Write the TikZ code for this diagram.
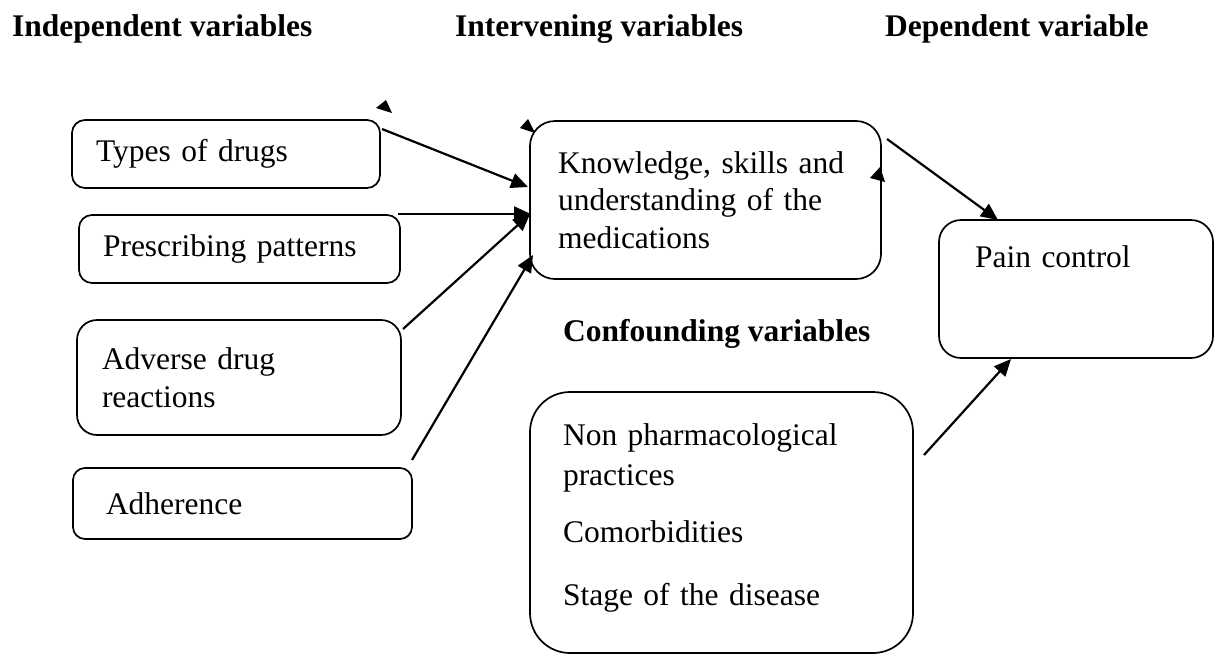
\documentclass[tikz,border=0pt]{standalone}
\usepackage{fontspec}
\setmainfont{Liberation Serif}
\usetikzlibrary{arrows.meta}
\begin{document}
\begin{tikzpicture}[x=1pt,y=-1pt,
  every node/.style={font=\fontsize{31.5}{37.5}\selectfont},
  rbox/.style={draw, line width=1.7pt, rounded corners=#1, inner ysep=0pt, align=left},
  head/.style={font=\fontsize{31.5}{37.5}\selectfont\bfseries, anchor=base west, inner sep=0pt},
  arr/.style={line width=2.2pt, -{Triangle[length=17pt,width=15pt]}},
  stray/.style={fill=black}
]
\useasboundingbox (0,0) rectangle (1217,654);

% headers
\node[head] (hind) at (12,36) {Independent variables};
\node[head] (hint) at (455,36) {Intervening variables};
\node[head] (hdep) at (885,36) {Dependent variable};
\node[head] (hconf) at (563,341) {Confounding variables};

% independent variables
\node[rbox=13pt, minimum height=68pt, text width=260pt, inner xsep=24pt] (types) at (226,154) {Types of drugs};
\node[rbox=13pt, minimum height=68pt, text width=273pt, inner xsep=24pt] (presc) at (239.5,249) {Prescribing patterns};
\node[rbox=20pt, minimum height=115pt, text width=274pt, inner xsep=25pt] (adverse) at (239,377.5) {Adverse drug\\reactions};
\node[rbox=12pt, minimum height=71pt, text width=273pt, inner xsep=33pt] (adher) at (242.5,503.5) {Adherence};

% intervening
\node[rbox=25pt, minimum height=158pt, text width=295pt, inner xsep=28pt] (know) at (705.5,200) {Knowledge, skills and\\understanding of the\\medications};

% dependent
\node[rbox=22pt, text width=202pt, inner xsep=36pt, text height=47pt, text depth=91pt] (pain) at (1076,289) {Pain control};

% confounding
\node[rbox=40pt, minimum height=261pt, text width=317pt, inner xsep=33pt] (conf) at (721.5,522.5) {Non pharmacological\\[2.5pt]practices\\[19.5pt]Comorbidities\\[25.5pt]Stage of the disease\rule[-16pt]{0pt}{16pt}};

% connector end points
\coordinate (a1s) at (382,129);
\coordinate (a1e) at (528,187);
\coordinate (a2s) at (398,214);
\coordinate (a2e) at (531,214);
\coordinate (a3s) at (403,329);
\coordinate (a3e) at (530,214);
\coordinate (a4s) at (412,460);
\coordinate (a4e) at (533,255);
\coordinate (a5s) at (887,139);
\coordinate (a5e) at (998,220);
\coordinate (a6s) at (924,455);
\coordinate (a6e) at (1011,359);

\draw[arr] (a1s) -- (a1e);
\draw[arr] (a2s) -- (a2e);
\draw[arr] (a3s) -- (a3e);
\draw[arr] (a4s) -- (a4e);
\draw[arr] (a5s) -- (a5e);
\draw[arr] (a6s) -- (a6e);

% stray arrowheads
\fill[stray] (376,108) -- (386,100) -- (392,113) -- cycle;
\fill[stray] (520,128) -- (528,119) -- (535,133) -- cycle;
\fill[stray] (870,178) -- (880,167) -- (885,182) -- cycle;
\end{tikzpicture}
\end{document}
